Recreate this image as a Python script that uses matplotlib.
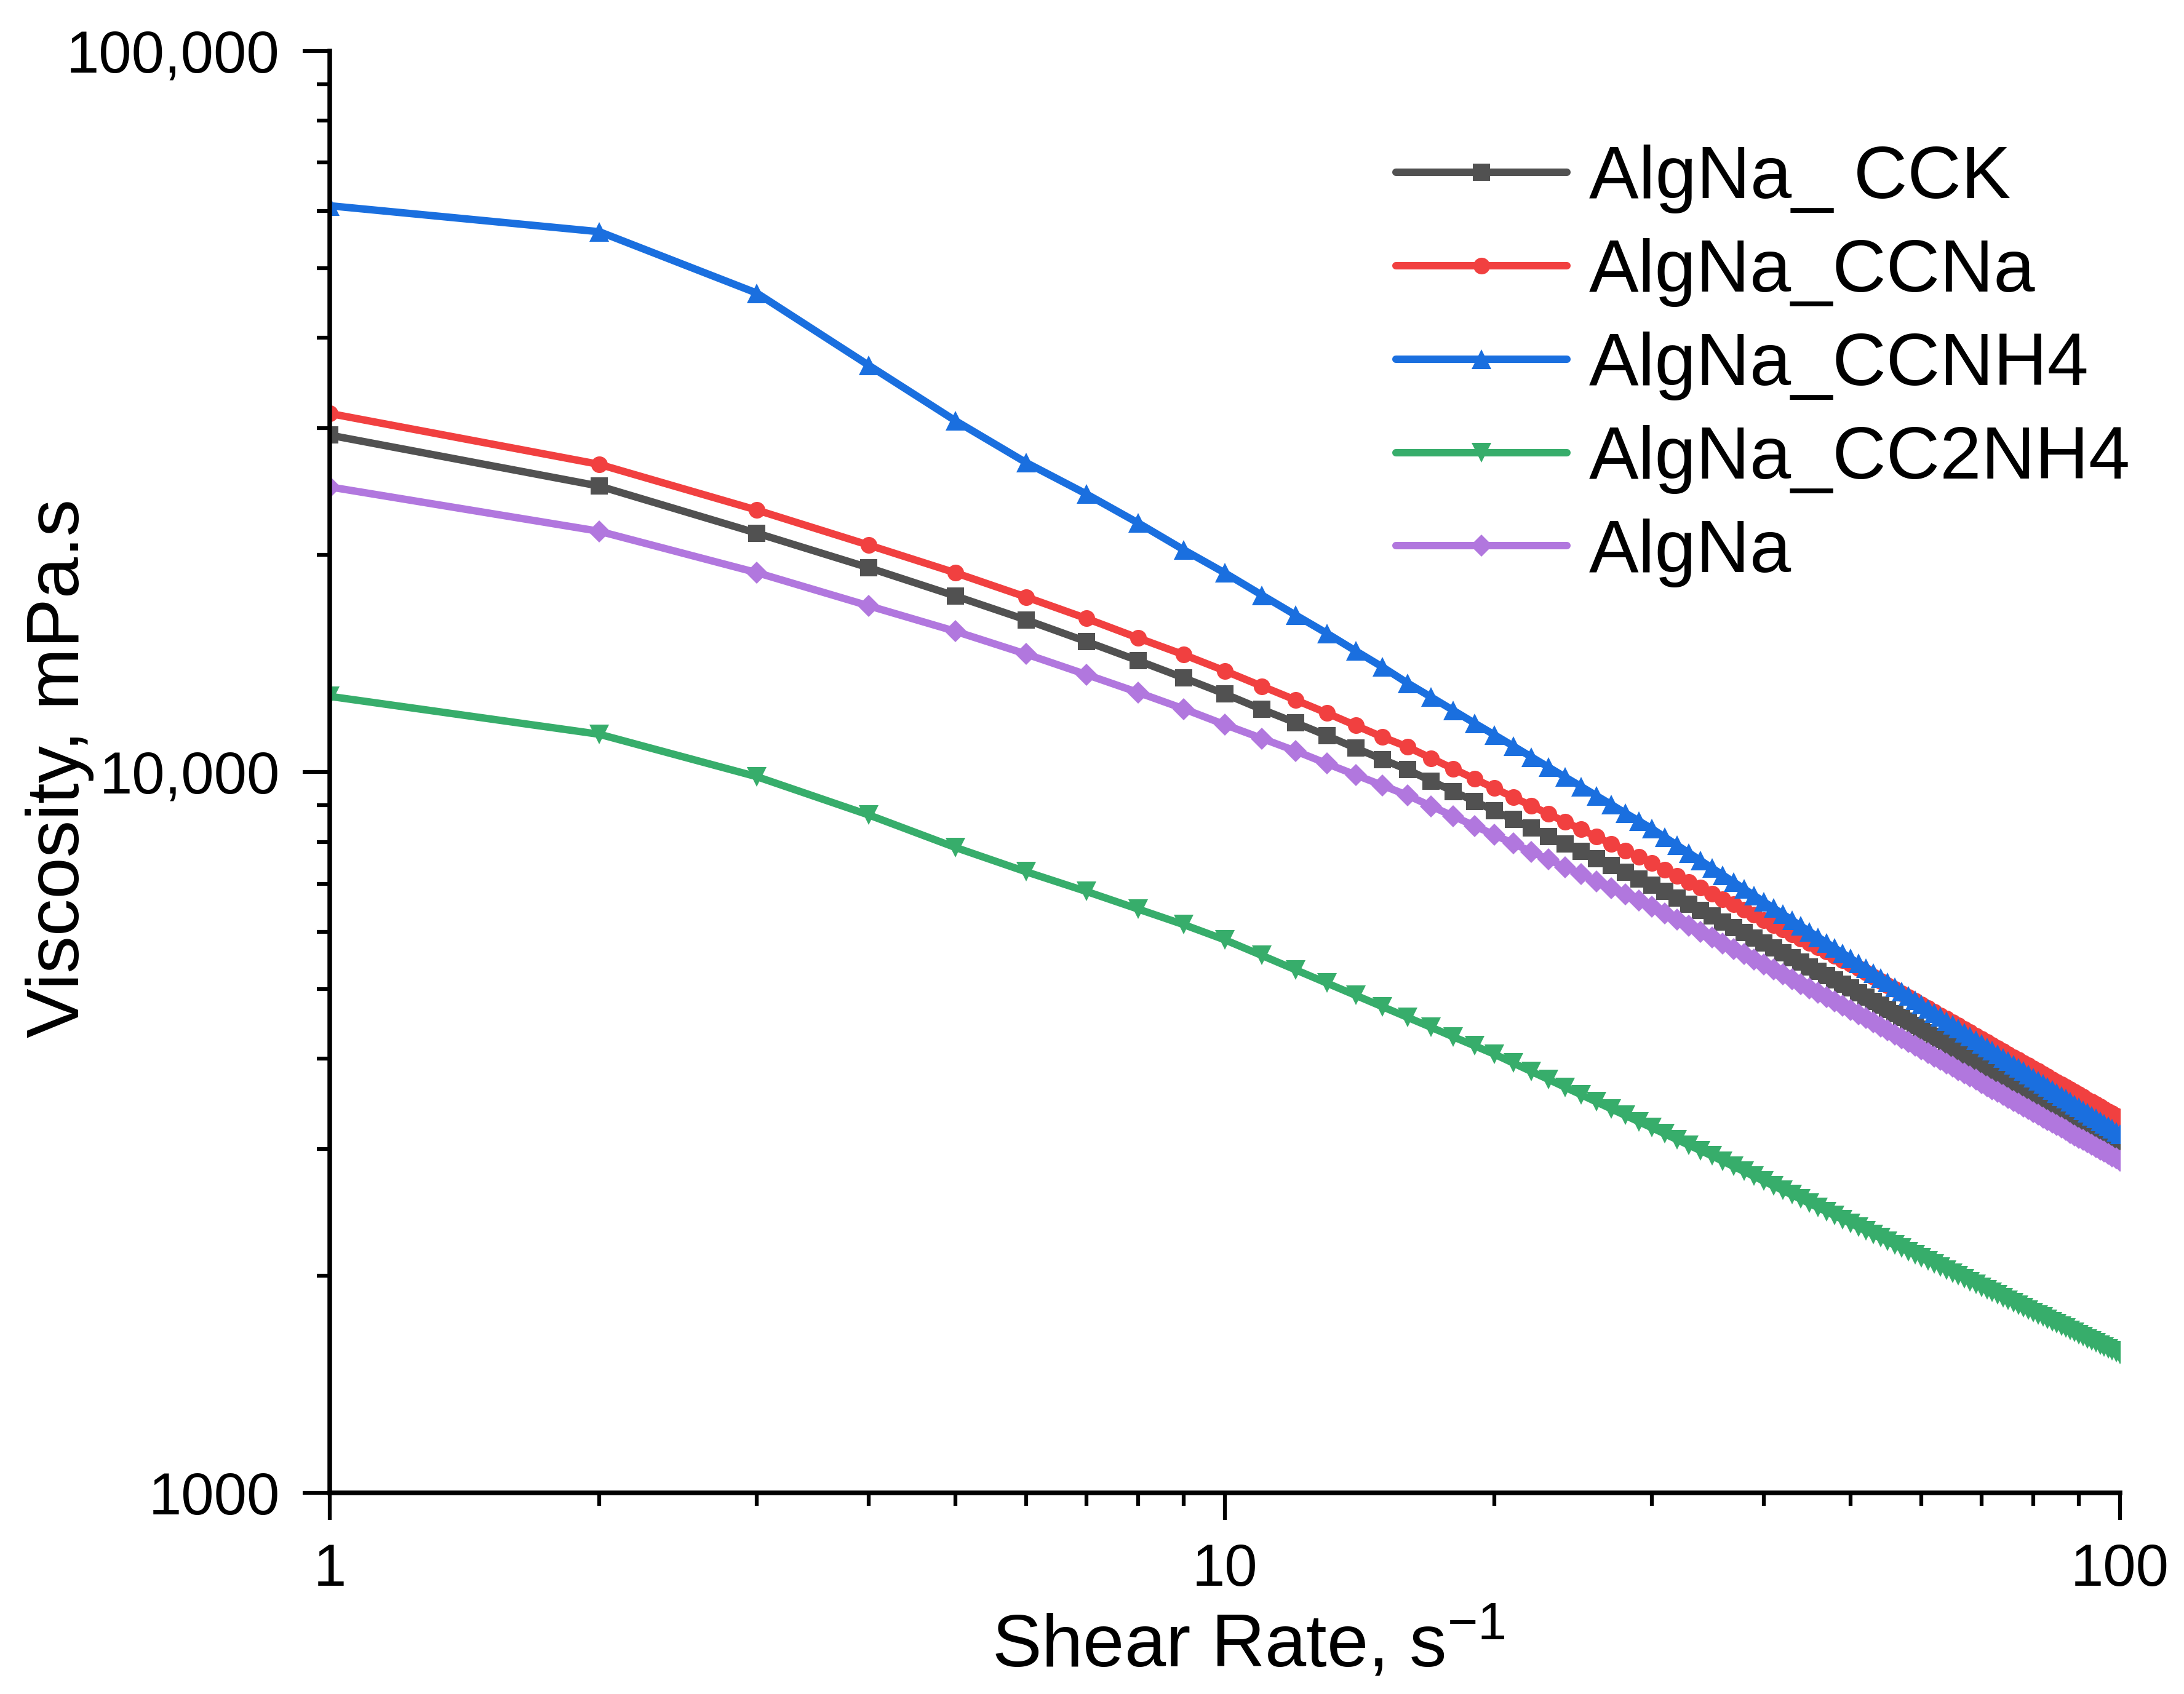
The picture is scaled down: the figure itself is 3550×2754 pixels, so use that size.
import numpy as np
import matplotlib
matplotlib.use("Agg")
import matplotlib.pyplot as plt
from matplotlib.ticker import LogLocator, FixedLocator, FixedFormatter, NullFormatter

plt.rcParams['font.family'] = ['Liberation Sans', 'DejaVu Sans']
plt.rcParams['mathtext.fontset'] = 'custom'
plt.rcParams['mathtext.rm'] = 'Liberation Sans'
plt.rcParams['mathtext.it'] = 'Liberation Sans'

# shear rate points, 1..100 s-1
shear_rate = np.arange(1, 101)

# viscosity readings (mPa.s)
algna_cck = [29320, 24920, 21440, 19200, 17540, 16250, 15170, 14270, 13500, 12830,
             12210, 11700, 11230, 10790, 10410, 10070, 9719, 9398, 9106, 8837,
             8588, 8358, 8143, 7943, 7754, 7578, 7412, 7257, 7110, 6970,
             6825, 6687, 6556, 6431, 6311, 6197, 6087, 5985, 5885, 5790,
             5698, 5612, 5525, 5445, 5366, 5291, 5218, 5149, 5081, 5014,
             4944, 4875, 4810, 4746, 4684, 4624, 4566, 4510, 4454, 4400,
             4350, 4299, 4251, 4203, 4157, 4112, 4067, 4024, 3983, 3941,
             3902, 3863, 3825, 3789, 3752, 3717, 3682, 3648, 3616, 3583,
             3551, 3521, 3490, 3460, 3431, 3402, 3374, 3347, 3320, 3294,
             3268, 3242, 3217, 3193, 3169, 3144, 3122, 3099, 3076, 3054]

algna_ccna = [31420, 26710, 23080, 20640, 18890, 17480, 16330, 15340, 14540, 13810,
              13150, 12580, 12070, 11600, 11180, 10830, 10450, 10100, 9784, 9493,
              9224, 8975, 8741, 8524, 8323, 8132, 7952, 7783, 7623, 7473,
              7319, 7176, 7037, 6906, 6781, 6662, 6549, 6439, 6335, 6233,
              6137, 6046, 5956, 5870, 5788, 5708, 5631, 5558, 5485, 5416,
              5341, 5268, 5196, 5129, 5062, 4998, 4934, 4875, 4816, 4759,
              4703, 4650, 4597, 4546, 4496, 4447, 4400, 4354, 4309, 4266,
              4223, 4181, 4140, 4101, 4061, 4023, 3987, 3950, 3915, 3879,
              3846, 3812, 3779, 3747, 3716, 3685, 3655, 3626, 3597, 3569,
              3541, 3513, 3486, 3460, 3434, 3408, 3383, 3359, 3335, 3311]

algna_ccnh4 = [61000, 56150, 46150, 36650, 30700, 26850, 24300, 22150, 20320, 18880,
               17590, 16500, 15570, 14720, 13980, 13280, 12700, 12170, 11690, 11260,
               10860, 10490, 10150, 9836, 9546, 9271, 9016, 8774, 8552, 8340,
               8121, 7914, 7720, 7535, 7360, 7194, 7037, 6887, 6744, 6606,
               6477, 6352, 6230, 6114, 6005, 5899, 5797, 5700, 5605, 5515,
               5426, 5342, 5260, 5181, 5104, 5031, 4959, 4890, 4822, 4757,
               4695, 4632, 4573, 4514, 4458, 4404, 4350, 4298, 4248, 4198,
               4151, 4104, 4059, 4014, 3970, 3928, 3887, 3846, 3807, 3768,
               3731, 3694, 3658, 3623, 3587, 3554, 3521, 3487, 3456, 3425,
               3395, 3365, 3336, 3307, 3278, 3251, 3223, 3197, 3171, 3145]

algna_cc2nh4 = [12730, 11280, 9850, 8718, 7857, 7269, 6829, 6454, 6140, 5850,
                5565, 5315, 5095, 4900, 4725, 4567, 4424, 4291, 4172, 4061,
                3947, 3842, 3745, 3653, 3568, 3487, 3411, 3340, 3273, 3210,
                3149, 3091, 3036, 2984, 2935, 2885, 2837, 2793, 2749, 2707,
                2667, 2629, 2591, 2556, 2521, 2488, 2456, 2425, 2395, 2366,
                2338, 2310, 2284, 2258, 2232, 2208, 2185, 2162, 2140, 2118,
                2097, 2077, 2057, 2037, 2018, 2000, 1981, 1963, 1946, 1929,
                1913, 1897, 1881, 1866, 1850, 1836, 1821, 1807, 1793, 1779,
                1766, 1753, 1740, 1728, 1716, 1704, 1692, 1680, 1669, 1658,
                1647, 1636, 1625, 1615, 1604, 1594, 1585, 1575, 1565, 1556]

algna = [24850, 21570, 18900, 17000, 15670, 14570, 13650, 12890, 12230, 11630,
         11130, 10690, 10270, 9906, 9580, 9280, 8966, 8681, 8420, 8180,
         7958, 7751, 7559, 7378, 7211, 7052, 6904, 6762, 6632, 6506,
         6370, 6239, 6118, 6000, 5890, 5783, 5681, 5586, 5493, 5404,
         5319, 5238, 5157, 5082, 5008, 4937, 4870, 4805, 4741, 4680,
         4615, 4554, 4494, 4436, 4379, 4325, 4272, 4221, 4171, 4123,
         4076, 4030, 3986, 3941, 3899, 3859, 3818, 3779, 3741, 3704,
         3668, 3632, 3597, 3564, 3530, 3498, 3466, 3435, 3405, 3376,
         3347, 3318, 3290, 3263, 3236, 3210, 3185, 3159, 3134, 3110,
         3086, 3063, 3040, 3017, 2995, 2973, 2952, 2931, 2911, 2890]

series_names = ['AlgNa_ CCK', 'AlgNa_CCNa', 'AlgNa_CCNH4', 'AlgNa_CC2NH4', 'AlgNa']
y_ticks = [1000, 10000, 100000]
y_tick_labels = ['1000', '10,000', '100,000']
x_ticks = [1, 10, 100]
x_tick_labels = ['1', '10', '100']

series = [algna_cck, algna_ccna, algna_ccnh4, algna_cc2nh4, algna]
colors = ['#515151', '#F14040', '#1A6FDF', '#37AD6B', '#B177DE']
markers = ['s', 'o', '^', 'v', 'D']
msizes = [6.5, 6.5, 7.5, 7.5, 6.0]

fig = plt.figure(figsize=(3550 / 300, 2754 / 300), dpi=300)
ax = fig.add_axes([0.151, 0.1187, 0.8197, 0.8512])

for vals, name, c, m, ms in zip(series, series_names, colors, markers, msizes):
    ax.plot(shear_rate, vals, color=c, lw=2.9, marker=m, ms=ms,
            markeredgewidth=0, label=name, solid_capstyle='round', solid_joinstyle='round')

ax.set_xscale('log')
ax.set_yscale('log')
ax.set_xlim(1, 100)
ax.set_ylim(1000, 100000)

ax.xaxis.set_major_locator(FixedLocator(x_ticks))
ax.xaxis.set_major_formatter(FixedFormatter(x_tick_labels))
ax.yaxis.set_major_locator(FixedLocator(y_ticks))
ax.yaxis.set_major_formatter(FixedFormatter(y_tick_labels))
ax.xaxis.set_minor_locator(LogLocator(base=10, subs=np.arange(2, 10)))
ax.yaxis.set_minor_locator(LogLocator(base=10, subs=np.arange(2, 10)))
ax.xaxis.set_minor_formatter(NullFormatter())
ax.yaxis.set_minor_formatter(NullFormatter())

for s in ['top', 'right']:
    ax.spines[s].set_visible(False)
for s in ['left', 'bottom']:
    ax.spines[s].set_linewidth(1.8)

ax.tick_params(which='major', direction='out', length=10.5, width=1.5, labelsize=23, pad=9)
ax.tick_params(which='minor', direction='out', length=5, width=1.5)

ax.set_xlabel(r'Shear Rate, s$^{-1}$', fontsize=29, va='baseline')
ax.set_ylabel('Viscosity, mPa.s', fontsize=29, rotation_mode='anchor',
              ha='center', va='baseline')
ax.xaxis.set_label_coords(0.513, -0.1207)
ax.yaxis.set_label_coords(-0.1402, 0.5026)

ax.legend(loc='upper left', bbox_to_anchor=(0.5955, 0.935), frameon=False,
          fontsize=29, handlelength=2.3, handletextpad=0.3, labelspacing=0.33,
          borderpad=0, borderaxespad=0)

fig.savefig('out.png', dpi=300)
